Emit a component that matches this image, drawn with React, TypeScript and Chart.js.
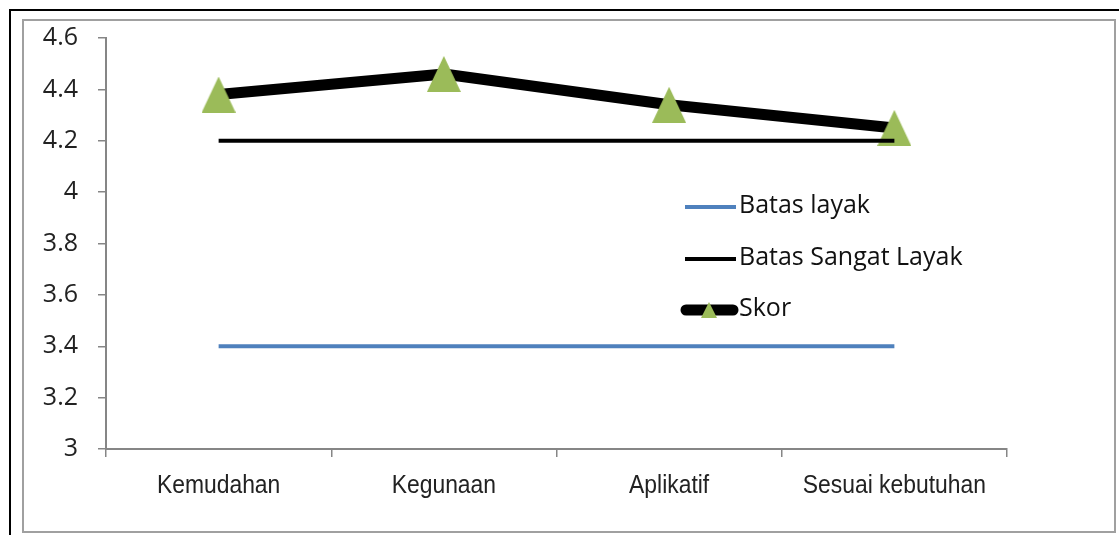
import React, { useEffect, useRef } from "react";
import { Chart, registerables } from "chart.js";

Chart.register(...registerables);

const categories = ["Kemudahan", "Kegunaan", "Aplikatif", "Sesuai kebutuhan"];
const batasLayak = [3.4, 3.4, 3.4, 3.4];
const batasSangatLayak = [4.2, 4.2, 4.2, 4.2];
const skor = [4.38, 4.46, 4.34, 4.25];
const seriesNames = ["Batas layak", "Batas Sangat Layak", "Skor"];
const yMin = 3;
const yMax = 4.6;
const yStep = 0.2;

const BLUE = "#4F81BD";
const GREEN = "#9BBB59";
const AXIS = "#868686";
const SANS = "'Open Sans', Lato, sans-serif";
const XFONT = "'Liberation Sans', Arial, sans-serif";

function makeTriangle(w: number, h: number) {
  const c = document.createElement("canvas");
  c.width = w;
  c.height = h;
  const ctx = c.getContext("2d")!;
  ctx.fillStyle = GREEN;
  ctx.beginPath();
  ctx.moveTo(w / 2, 0);
  ctx.lineTo(w, h);
  ctx.lineTo(0, h);
  ctx.closePath();
  ctx.fill();
  return c;
}

export default function App() {
  const ref = useRef<HTMLCanvasElement | null>(null);

  useEffect(() => {
    if (!ref.current) return;
    const tri = makeTriangle(34, 36);
    const triSmall = makeTriangle(16, 16);

    const framePlugin = {
      id: "frame",
      beforeDraw(chart: any) {
        const ctx = chart.ctx;
        ctx.save();
        ctx.fillStyle = "#ffffff";
        ctx.fillRect(0, 0, chart.width, chart.height);
        ctx.strokeStyle = "#a0a0a0";
        ctx.lineWidth = 2;
        ctx.strokeRect(23, 20, 1092, 512);
        ctx.strokeStyle = "#000000";
        ctx.lineWidth = 2;
        ctx.beginPath();
        ctx.moveTo(10, 535);
        ctx.lineTo(10, 10);
        ctx.lineTo(1119, 10);
        ctx.stroke();
        ctx.restore();
      },
    };

    const xLabelPlugin = {
      id: "xLabels",
      afterDraw(chart: any) {
        const ctx = chart.ctx;
        const xs = chart.scales.x;
        ctx.save();
        ctx.fillStyle = "#222";
        ctx.font = "26px " + XFONT;
        ctx.textAlign = "center";
        ctx.textBaseline = "middle";
        categories.forEach((label, i) => {
          const x = xs.getPixelForValue(i);
          ctx.save();
          ctx.translate(x, xs.bottom - xs.height + 37);
          ctx.scale(0.88, 1);
          ctx.fillText(label, 0, 0);
          ctx.restore();
        });
        ctx.restore();
      },
    };

    const legendPlugin = {
      id: "customLegend",
      afterDraw(chart: any) {
        const ctx = chart.ctx;
        ctx.save();
        ctx.lineCap = "butt";
        ctx.strokeStyle = BLUE;
        ctx.lineWidth = 4;
        ctx.beginPath();
        ctx.moveTo(685, 207);
        ctx.lineTo(736, 207);
        ctx.stroke();
        ctx.strokeStyle = "#000";
        ctx.lineWidth = 4;
        ctx.beginPath();
        ctx.moveTo(685, 259);
        ctx.lineTo(736, 259);
        ctx.stroke();
        ctx.lineWidth = 11;
        ctx.lineCap = "round";
        ctx.beginPath();
        ctx.moveTo(686, 310);
        ctx.lineTo(733, 310);
        ctx.stroke();
        ctx.drawImage(triSmall, 701, 302);
        ctx.fillStyle = "#111";
        ctx.font = "25px " + SANS;
        ctx.textBaseline = "middle";
        ctx.textAlign = "left";
        ctx.fillText(seriesNames[0], 739, 206);
        ctx.fillText(seriesNames[1], 739, 258);
        ctx.fillText(seriesNames[2], 739, 309);
        ctx.restore();
      },
    };

    const chart = new Chart(ref.current, {
      type: "line",
      data: {
        labels: categories,
        datasets: [
          {
            label: seriesNames[0],
            data: batasLayak,
            borderColor: BLUE,
            borderWidth: 4,
            pointRadius: 0,
            borderCapStyle: "butt",
          },
          {
            label: seriesNames[1],
            data: batasSangatLayak,
            borderColor: "#000",
            borderWidth: 4,
            pointRadius: 0,
            borderCapStyle: "butt",
          },
          {
            label: seriesNames[2],
            data: skor,
            borderColor: "#000",
            borderWidth: 11,
            borderJoinStyle: "round",
            pointStyle: tri as any,
            pointRadius: 18,
            pointBackgroundColor: GREEN,
            pointBorderWidth: 0,
          },
        ],
      },
      options: {
        animation: false,
        responsive: false,
        maintainAspectRatio: false,
        layout: { padding: { left: 23, right: 112, top: 38, bottom: 0 } },
        plugins: {
          legend: { display: false },
          tooltip: { enabled: false },
        },
        scales: {
          x: {
            type: "category",
            offset: true,
            grid: {
              offset: true,
              drawOnChartArea: false,
              drawTicks: true,
              tickLength: 8,
              color: AXIS,
              lineWidth: 1.5,
            },
            border: { color: AXIS, width: 2 },
            ticks: { display: false },
            afterFit(scale: any) {
              scale.height = 86;
            },
          },
          y: {
            min: yMin,
            max: yMax,
            grid: {
              drawOnChartArea: false,
              drawTicks: true,
              tickLength: 8,
              color: AXIS,
              lineWidth: 1.5,
            },
            border: { color: AXIS, width: 2 },
            ticks: {
              stepSize: yStep,
              color: "#222",
              font: { family: SANS, size: 25 },
              padding: 20,
              callback: (v: any) => String(Number(Number(v).toFixed(1))),
            },
            afterFit(scale: any) {
              scale.width = 83;
            },
          },
        },
      },
      plugins: [framePlugin, xLabelPlugin, legendPlugin],
    });
    return () => chart.destroy();
  }, []);

  return (
    <div style={{ position: "absolute", left: 0, top: 0, width: 1119, height: 535 }}>
      <canvas ref={ref} width={1119} height={535} style={{ display: "block" }} />
    </div>
  );
}
